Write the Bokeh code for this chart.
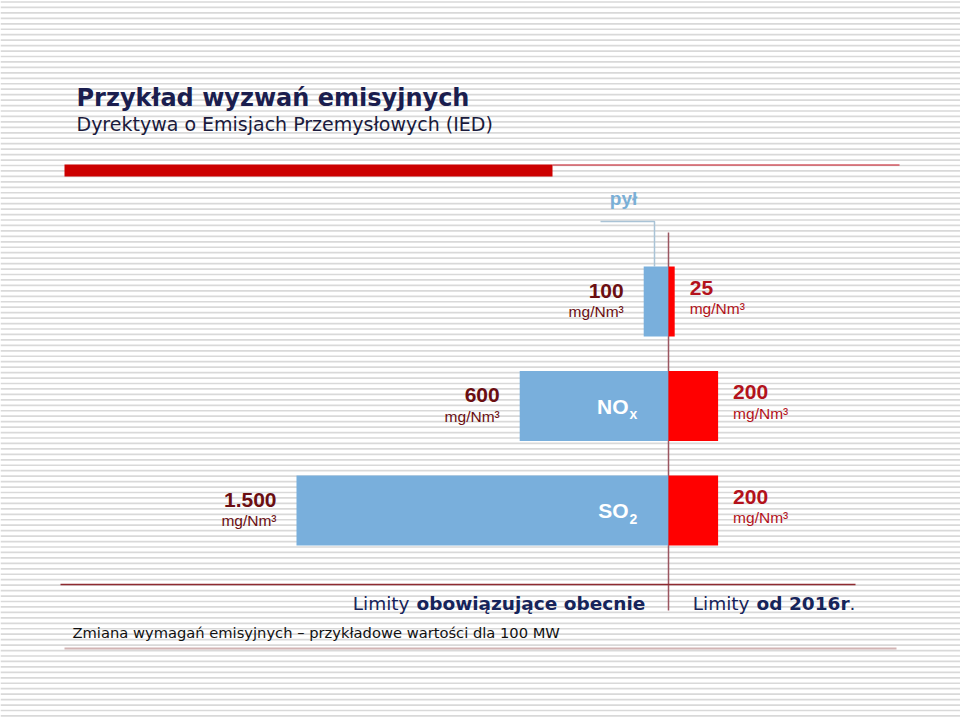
import numpy as np
from bokeh.plotting import figure
from bokeh.models import Range1d
from bokeh.core.properties import value
from bokeh.embed import file_html
from bokeh.resources import INLINE

# ---------------- data ----------------
pollutants = ["pył", "NOx", "SO2"]
gas_main = ["pył", "NO", "SO"]
gas_sub = ["", "x", "2"]
current_limits = [100, 600, 1500]      # mg/Nm3, limits in force now
new_limits = [25, 200, 200]            # mg/Nm3, limits from 2016
current_labels = ["100", "600", "1.500"]
new_labels = ["25", "200", "200"]
unit = "mg/Nm³"

title = "Przykład wyzwań emisyjnych"
subtitle = "Dyrektywa o Emisjach Przemysłowych (IED)"
caption = "Zmiana wymagań emisyjnych – przykładowe wartości dla 100 MW"
foot_left = ("Limity", "obowiązujące obecnie")
foot_right = ("Limity", "od 2016r", ".")

# ---------------- layout helpers ----------------
W, H = 960, 717
K = 0.248            # pixels per mg/Nm3
ZERO_PX = 668        # pixel of the zero line
ROW0, STEP = 301, 104.5


def X(px):
    return (px - ZERO_PX) / K


def Y(py):
    return (py - ROW0) / STEP


BLUE = "#79afdc"
RED = "#ff0000"
MAROON = "#6b0e12"
RED_TXT = "#b3121b"
NAVY = "#1b1e4f"
SANS = value("Liberation Sans")
VERD = value("DejaVu Sans")

p = figure(width=W, height=H, output_backend="svg", toolbar_location=None,
           x_range=Range1d(X(0), X(W)), y_range=Range1d(Y(H), Y(0)),
           min_border=0)
p.axis.visible = False
p.grid.visible = False
p.outline_line_color = None
p.background_fill_color = "white"
p.border_fill_color = "white"

# background stripes
ys = np.arange(1.5, H, 5.45)
p.segment(x0=X(0), x1=X(W), y0=Y(ys), y1=Y(ys), line_color="#d9d9d9", line_width=1.7)

# title block
p.text(x=[X(76)], y=[Y(97)], text=[title], text_font=VERD, text_font_size="24px",
       text_font_style="bold", text_color=NAVY, text_align="left", text_baseline="middle")
p.text(x=[X(76)], y=[Y(123)], text=[subtitle], text_font=VERD, text_font_size="19px",
       text_color="#1a1a3c", text_align="left", text_baseline="middle")
p.quad(left=X(64), right=X(552), top=Y(164), bottom=Y(176), fill_color="#cc0000", line_color=None)
p.segment(x0=X(552), x1=X(899), y0=Y(164.5), y1=Y(164.5), line_color="#c8101e", line_width=1.2)

rows = np.arange(len(pollutants))
cur = np.array(current_limits)
new = np.array(new_limits)
bh = 70 / STEP

# pył leader line
p.line(x=[X(600), X(654), X(654)], y=[Y(221), Y(221), Y(266)], line_color="#a9c3d6", line_width=1.5)
p.text(x=[X(623)], y=[Y(198)], text=[gas_main[0]], text_font=SANS, text_font_size="19px",
       text_font_style="bold", text_color="#7aafd6", text_align="center", text_baseline="middle")

# center line
p.segment(x0=0, x1=0, y0=Y(232), y1=Y(610), line_color="#9c5560", line_width=1.5)

# bars
p.hbar(y=rows, left=-cur, right=0, height=bh, fill_color=BLUE, line_color=None)
p.hbar(y=rows, left=0, right=new, height=bh, fill_color=RED, line_color=None)

# labels left
p.text(x=-cur, y=rows, text=current_labels, x_offset=-20, y_offset=-11, text_font=SANS,
       text_font_size="21px", text_font_style="bold", text_color=MAROON,
       text_align="right", text_baseline="middle")
p.text(x=-cur, y=rows, text=[unit] * len(rows), x_offset=-20, y_offset=10, text_font=SANS,
       text_font_size="15.5px", text_color=MAROON, text_align="right", text_baseline="middle")
# labels right
p.text(x=new, y=rows, text=new_labels, x_offset=15, y_offset=-14, text_font=SANS,
       text_font_size="21px", text_font_style="bold", text_color=RED_TXT,
       text_align="left", text_baseline="middle")
p.text(x=new, y=rows, text=[unit] * len(rows), x_offset=15, y_offset=7, text_font=SANS,
       text_font_size="15.5px", text_color=RED_TXT, text_align="left", text_baseline="middle")

# gas names inside bars
p.text(x=[X(628)] * 2, y=rows[1:], text=gas_main[1:], y_offset=0, text_font=SANS,
       text_font_size="21px", text_font_style="bold", text_color="white",
       text_align="right", text_baseline="middle")
p.text(x=[X(629)] * 2, y=rows[1:], text=gas_sub[1:], y_offset=8, text_font=SANS,
       text_font_size="14px", text_font_style="bold", text_color="white",
       text_align="left", text_baseline="middle")

# bottom lines and captions
p.segment(x0=X(60), x1=X(855), y0=Y(584), y1=Y(584), line_color="#8e2a30", line_width=1.5)
p.segment(x0=X(64), x1=X(896), y0=Y(648), y1=Y(648), line_color="#d2b4b4", line_width=2)

FOOT_NAVY = "#16245a"
FS = "18.5px"
p.text(x=[X(409)], y=[Y(603)], text=[foot_left[0]], text_font=VERD, text_font_size=FS,
       text_color=FOOT_NAVY, text_align="right", text_baseline="middle")
p.text(x=[X(416)], y=[Y(603)], text=[foot_left[1]], text_font=VERD, text_font_size=FS,
       text_font_style="bold", text_color=FOOT_NAVY, text_align="left", text_baseline="middle")
p.text(x=[X(749)], y=[Y(603)], text=[foot_right[0]], text_font=VERD, text_font_size=FS,
       text_color=FOOT_NAVY, text_align="right", text_baseline="middle")
p.text(x=[X(756)], y=[Y(603)], text=[foot_right[1]], text_font=VERD, text_font_size=FS,
       text_font_style="bold", text_color=FOOT_NAVY, text_align="left", text_baseline="middle")
p.text(x=[X(849)], y=[Y(603)], text=[foot_right[2]], text_font=VERD, text_font_size=FS,
       text_color=FOOT_NAVY, text_align="left", text_baseline="middle")
p.text(x=[X(72)], y=[Y(632)], text=[caption], text_font=VERD, text_font_size="14.7px",
       text_color="#111111", text_align="left", text_baseline="middle")

open("out.html", "w").write(file_html(p, INLINE))
